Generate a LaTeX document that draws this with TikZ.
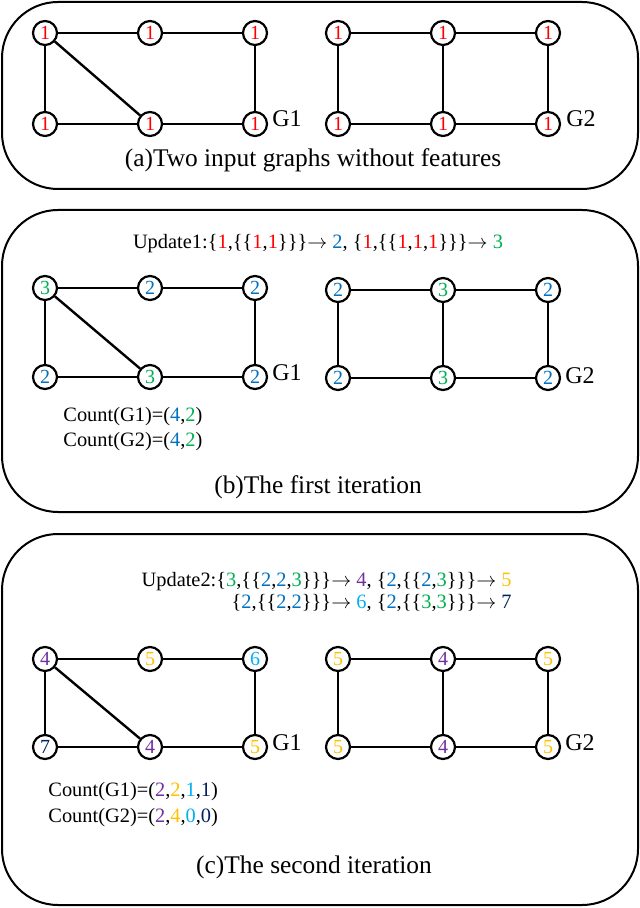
\documentclass[tikz,border=0pt]{standalone}
\usepackage{fontspec}
\setmainfont{Liberation Serif}
\definecolor{lred}{RGB}{255,0,0}
\definecolor{lblue}{RGB}{0,112,192}
\definecolor{lgreen}{RGB}{0,176,80}
\definecolor{lpurple}{RGB}{112,48,160}
\definecolor{lorange}{RGB}{255,192,0}
\definecolor{lsky}{RGB}{0,176,240}
\definecolor{lnavy}{RGB}{0,32,96}
\newcommand{\cl}[2]{\textcolor{#1}{#2}}
\begin{document}
\begin{tikzpicture}[x=0.5pt,y=-0.5pt]
        \useasboundingbox (0,0) rectangle (640,908);

        \begin{scope}[
            panel/.style={draw, line width=1pt, rounded corners=28pt}]
            \draw[panel] (2,2) rectangle (638,189);
            \draw[panel] (2,210) rectangle (638,512);
            \draw[panel] (2,534) rectangle (638,905);
        \end{scope}

        \begin{scope}[
            vnode/.style={draw, circle, line width=1.1pt, minimum size=12pt, inner sep=0pt, font=\fontsize{10}{12}\selectfont},
            gname/.style={font=\fontsize{12}{14}\selectfont},
            caption/.style={font=\fontsize{12.7}{15}\selectfont},
            info/.style={font=\fontsize{10.2}{12}\selectfont, inner sep=0pt}]
            % (a) input graphs
            \node[vnode, text=lred] (a1) at (45,33) {1};
            \node[vnode, text=lred] (a2) at (150,33) {1};
            \node[vnode, text=lred] (a3) at (255,33) {1};
            \node[vnode, text=lred] (a4) at (45,124) {1};
            \node[vnode, text=lred] (a5) at (150,124) {1};
            \node[vnode, text=lred] (a6) at (255,124) {1};
            \node[vnode, text=lred] (b1) at (338,33) {1};
            \node[vnode, text=lred] (b2) at (443,33) {1};
            \node[vnode, text=lred] (b3) at (548,33) {1};
            \node[vnode, text=lred] (b4) at (338,124) {1};
            \node[vnode, text=lred] (b5) at (443,124) {1};
            \node[vnode, text=lred] (b6) at (548,124) {1};
            \node[gname] (ga1) at (287,119) {G1};
            \node[gname] (ga2) at (581,119) {G2};
            \node[caption] (capa) at (313,160) {(a)Two input graphs without features};

            % (b) first iteration
            \node[info] (upd1) at (318,244) {Update1:\{\cl{lred}{1},\{\{\cl{lred}{1},\cl{lred}{1}\}\}\}$\rightarrow$ \cl{lblue}{2}, \{\cl{lred}{1},\{\{\cl{lred}{1},\cl{lred}{1},\cl{lred}{1}\}\}\}$\rightarrow$ \cl{lgreen}{3}};
            \node[vnode, text=lgreen] (c1) at (45,288) {3};
            \node[vnode, text=lblue] (c2) at (150,288) {2};
            \node[vnode, text=lblue] (c3) at (255,288) {2};
            \node[vnode, text=lblue] (c4) at (45,377) {2};
            \node[vnode, text=lgreen] (c5) at (150,377) {3};
            \node[vnode, text=lblue] (c6) at (255,377) {2};
            \node[vnode, text=lblue] (d1) at (338,290) {2};
            \node[vnode, text=lgreen] (d2) at (443,290) {3};
            \node[vnode, text=lblue] (d3) at (548,290) {2};
            \node[vnode, text=lblue] (d4) at (338,378) {2};
            \node[vnode, text=lgreen] (d5) at (443,378) {3};
            \node[vnode, text=lblue] (d6) at (548,378) {2};
            \node[gname] (gb1) at (287,373) {G1};
            \node[gname] (gb2) at (580,376) {G2};
            \node[info, anchor=west] (cntb1) at (63,417) {Count(G1)=(\cl{lblue}{4},\cl{lgreen}{2})};
            \node[info, anchor=west] (cntb2) at (63,442) {Count(G2)=(\cl{lblue}{4},\cl{lgreen}{2})};
            \node[caption] (capb) at (318,487) {(b)The first iteration};

            % (c) second iteration
            \node[info, anchor=east, align=right, font=\fontsize{10.2}{11}\selectfont] (upd2) at (512,592)
                {Update2:\{\cl{lgreen}{3},\{\{\cl{lblue}{2},\cl{lblue}{2},\cl{lgreen}{3}\}\}\}$\rightarrow$ \cl{lpurple}{4}, \{\cl{lblue}{2},\{\{\cl{lblue}{2},\cl{lgreen}{3}\}\}\}$\rightarrow$ \cl{lorange}{5}\\
                 \{\cl{lblue}{2},\{\{\cl{lblue}{2},\cl{lblue}{2}\}\}\}$\rightarrow$ \cl{lsky}{6}, \{\cl{lblue}{2},\{\{\cl{lgreen}{3},\cl{lgreen}{3}\}\}\}$\rightarrow$ \cl{lnavy}{7}};
            \node[vnode, text=lpurple] (e1) at (45,659) {4};
            \node[vnode, text=lorange] (e2) at (150,659) {5};
            \node[vnode, text=lsky] (e3) at (255,659) {6};
            \node[vnode, text=lnavy] (e4) at (45,747) {7};
            \node[vnode, text=lpurple] (e5) at (150,747) {4};
            \node[vnode, text=lorange] (e6) at (255,747) {5};
            \node[vnode, text=lorange] (f1) at (338,659) {5};
            \node[vnode, text=lpurple] (f2) at (443,659) {4};
            \node[vnode, text=lorange] (f3) at (548,659) {5};
            \node[vnode, text=lorange] (f4) at (338,747) {5};
            \node[vnode, text=lpurple] (f5) at (443,747) {4};
            \node[vnode, text=lorange] (f6) at (548,747) {5};
            \node[gname] (gc1) at (287,743) {G1};
            \node[gname] (gc2) at (580,743) {G2};
            \node[info, anchor=west] (cntc1) at (48,792) {Count(G1)=(\cl{lpurple}{2},\cl{lorange}{2},\cl{lsky}{1},\cl{lnavy}{1})};
            \node[info, anchor=west] (cntc2) at (48,818) {Count(G2)=(\cl{lpurple}{2},\cl{lorange}{4},\cl{lsky}{0},\cl{lnavy}{0})};
            \node[caption] (capc) at (314,867) {(c)The second iteration};
        \end{scope}

        \begin{scope}[
            every edge/.style={draw, line width=1.2pt}]
            \path (a1) edge (a2) (a2) edge (a3) (a3) edge (a6) (a1) edge (a4)
                  (a1) edge (a5) (a4) edge (a5) (a5) edge (a6);
            \path (b1) edge (b2) (b2) edge (b3) (b4) edge (b5) (b5) edge (b6)
                  (b1) edge (b4) (b2) edge (b5) (b3) edge (b6);
            \path (c1) edge (c2) (c2) edge (c3) (c3) edge (c6) (c1) edge (c4)
                  (c1) edge (c5) (c4) edge (c5) (c5) edge (c6);
            \path (d1) edge (d2) (d2) edge (d3) (d4) edge (d5) (d5) edge (d6)
                  (d1) edge (d4) (d2) edge (d5) (d3) edge (d6);
            \path (e1) edge (e2) (e2) edge (e3) (e3) edge (e6) (e1) edge (e4)
                  (e1) edge (e5) (e4) edge (e5) (e5) edge (e6);
            \path (f1) edge (f2) (f2) edge (f3) (f4) edge (f5) (f5) edge (f6)
                  (f1) edge (f4) (f2) edge (f5) (f3) edge (f6);
        \end{scope}

        \end{tikzpicture}
\end{document}
